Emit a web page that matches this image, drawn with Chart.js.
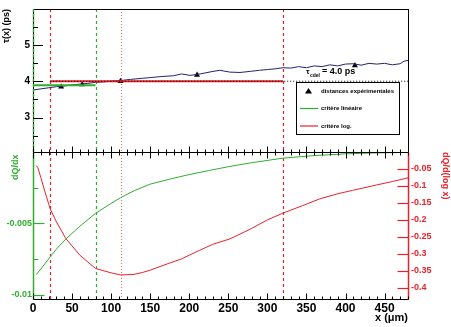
<!DOCTYPE html>
<html lang="fr">
<head>
<meta charset="UTF-8">
<title>tau(x) et dQ/dx</title>
<script src="https://cdn.jsdelivr.net/npm/chart.js"></script>
<style>
  html, body { margin: 0; padding: 0; background: #fff; }
  #wrap { position: relative; width: 451px; height: 327px; background: #fff; }
  #wrap canvas { position: absolute; left: 0; top: 0; }
</style>
</head>
<body>
<div id="wrap">
  <canvas id="topChart" width="451" height="327"></canvas>
  <canvas id="botChart" width="451" height="327"></canvas>
</div>

<script>
// ---- data ----
const X_TICKS = [0, 50, 100, 150, 200, 250, 300, 350, 400, 450];
const TAU_TICKS = [3, 4, 5];
const DQDX_TICKS = [-0.01, -0.005];
const DQDLOG_TICKS = [-0.4, -0.35, -0.3, -0.25, -0.2, -0.15, -0.1, -0.05];

// tau(x) measured curve (ps)
const TAU_X = [0, 10, 20, 30, 40, 50, 60, 70, 80, 90, 100, 112, 125, 140, 150, 165, 180, 190, 201, 214, 228, 239, 252, 265, 278, 290, 300, 310, 320, 330, 340, 350, 360, 370, 380, 390, 400, 410, 420, 430, 440, 450, 460, 470, 475, 480];
const TAU_Y = [3.76, 3.79, 3.82, 3.85, 3.87, 3.90, 3.92, 3.94, 3.97, 3.98, 4.00, 4.02, 4.05, 4.08, 4.10, 4.13, 4.15, 4.20, 4.16, 4.20, 4.26, 4.30, 4.25, 4.24, 4.27, 4.30, 4.32, 4.34, 4.37, 4.36, 4.40, 4.37, 4.42, 4.40, 4.45, 4.42, 4.47, 4.48, 4.44, 4.49, 4.47, 4.49, 4.45, 4.48, 4.55, 4.57];

// distances expérimentales
const EXP_X = [36, 63, 112, 210, 412];
const EXP_TAU = [3.85, 3.91, 4.0, 4.17, 4.43];

// criteria
const LIN_X = [0, 80];
const LIN_TAU = [3.89, 3.89];
const LOG_X = [22, 320];
const LOG_TAU = [4.0, 4.0];
const CDEL_X = [22, 480];
const TAU_CDEL = 4.0;

// cut positions (um)
const CUT_LOG = [22, 320];
const CUT_LIN = [80];
const CUT_OPT = [112];

// dQ/dx (left axis)
const DQDX_X = [4, 10, 22, 30, 42, 60, 80, 100, 112, 130, 150, 175, 200, 225, 252, 280, 320, 360, 400, 440, 480];
const DQDX_Y = [-0.0086, -0.0082, -0.00735, -0.0068, -0.0061, -0.0052, -0.0043, -0.0036, -0.0032, -0.0027, -0.00225, -0.0019, -0.00158, -0.0013, -0.00101, -0.00075, -0.00043, -0.00025, -0.00013, -0.00006, -0.00003];

// dQ/d(log x) (right axis)
const DQDLOG_X = [4, 6, 10, 15, 22, 30, 42, 60, 80, 100, 112, 128, 140, 150, 175, 190, 200, 213, 230, 252, 280, 300, 320, 345, 367, 390, 409, 440, 460, 480];
const DQDLOG_Y = [-0.04, -0.045, -0.075, -0.115, -0.167, -0.206, -0.255, -0.304, -0.343, -0.356, -0.362, -0.361, -0.355, -0.348, -0.327, -0.315, -0.304, -0.29, -0.272, -0.256, -0.225, -0.2, -0.18, -0.158, -0.138, -0.123, -0.113, -0.097, -0.087, -0.076];

const GREEN = '#2fae2f';
const RED = '#e8222a';
const PINK = '#ea6a6a';
const NAVY = '#23236e';
const FONT = 'Liberation Sans, Arial, Helvetica, sans-serif';

const pts = (xs, ys) => xs.map((x, i) => ({ x: x, y: ys[i] }));

Chart.defaults.animation = false;
Chart.defaults.font.family = FONT;

function line(ctx, x1, y1, x2, y2, color, width, dash) {
  ctx.save();
  ctx.strokeStyle = color;
  ctx.lineWidth = width;
  ctx.setLineDash(dash || []);
  ctx.beginPath();
  ctx.moveTo(x1, y1);
  ctx.lineTo(x2, y2);
  ctx.stroke();
  ctx.restore();
}

function drawCuts(chart) {
  const ctx = chart.ctx, a = chart.chartArea, xs = chart.scales.x;
  CUT_LOG.forEach(v => { const p = Math.round(xs.getPixelForValue(v)) + 0.5; line(ctx, p, a.top, p, a.bottom, RED, 1.2, [3, 3]); });
  CUT_LIN.forEach(v => { const p = Math.round(xs.getPixelForValue(v)) + 0.5; line(ctx, p, a.top, p, a.bottom, GREEN, 1.2, [3, 3]); });
  CUT_OPT.forEach(v => { const p = Math.round(xs.getPixelForValue(v)) + 0.5; line(ctx, p, a.top, p, a.bottom, PINK, 1, [1, 2]); });
}

// ticks along the x axis at pixel row y, dir = -1 up, +1 down
function drawXTicks(chart, y, dir) {
  const ctx = chart.ctx, xs = chart.scales.x;
  for (let v = 0; v <= 480; v += 10) {
    const p = Math.round(xs.getPixelForValue(v)) + 0.5;
    const len = v % 50 === 0 ? 6 : 3;
    line(ctx, p, y, p, y + dir * len, '#000', 1);
  }
}

const topPlugin = {
  id: 'topPad',
  beforeDatasetsDraw(chart) {
    drawCuts(chart);
  },
  afterDraw(chart) {
    const ctx = chart.ctx, a = chart.chartArea, ys = chart.scales.y, xs = chart.scales.x;
    ctx.save();
    ctx.strokeStyle = '#000';
    ctx.lineWidth = 1;
    ctx.strokeRect(Math.round(a.left) + 0.5, Math.round(a.top) + 0.5, Math.round(a.right - a.left), Math.round(a.bottom - a.top));
    ctx.restore();
    // green dashed line at x = 0
    const x0 = Math.round(xs.getPixelForValue(0)) + 0.5;
    line(ctx, x0, a.top, x0, a.bottom, GREEN, 1.5, [3, 2]);
    drawXTicks(chart, Math.round(a.bottom) + 0.5, -1);
    // y ticks
    TAU_TICKS.forEach(v => { const p = Math.round(ys.getPixelForValue(v)) + 0.5; line(ctx, a.left, p, a.left + 10, p, '#000', 1); });
    [2.5, 3.5, 4.5, 5.5].forEach(v => { const p = Math.round(ys.getPixelForValue(v)) + 0.5; line(ctx, a.left, p, a.left + 5, p, '#000', 1); });

    // tau_cdel label
    ctx.save();
    ctx.fillStyle = '#000';
    ctx.textBaseline = 'alphabetic';
    ctx.font = 'bold 8px ' + FONT;
    ctx.fillText('\u03c4', 306, 74);
    ctx.font = 'bold 5px ' + FONT;
    ctx.fillText('cdel', 310, 77);
    ctx.font = 'bold 9px ' + FONT;
    ctx.fillText('= 4.0 ps', 322, 74);
    ctx.restore();

    // legend box
    const lx = 296.5, ly = 82.5, lw = 103, lh = 52;
    ctx.save();
    ctx.fillStyle = '#fff';
    ctx.fillRect(lx, ly, lw, lh);
    ctx.strokeStyle = '#000';
    ctx.lineWidth = 1;
    ctx.strokeRect(lx, ly, lw, lh);
    const ds = chart.data.datasets;
    const items = [ds[4], ds[1], ds[2]];
    const rows = [91, 108.5, 126];
    ctx.font = 'bold 6px ' + FONT;
    ctx.textBaseline = 'middle';
    items.forEach((d, i) => {
      const y = rows[i];
      if (d.showLine === false) {
        ctx.fillStyle = '#000';
        ctx.beginPath();
        ctx.moveTo(308.5, y - 3);
        ctx.lineTo(312, y + 2.5);
        ctx.lineTo(305, y + 2.5);
        ctx.closePath();
        ctx.fill();
      } else {
        line(ctx, 300, y, 318, y, d.borderColor, 1.2);
      }
      ctx.fillStyle = '#000';
      ctx.fillText(d.label, 321, y);
    });
    ctx.restore();
  }
};

const botPlugin = {
  id: 'botPad',
  beforeDatasetsDraw(chart) {
    drawCuts(chart);
  },
  afterDraw(chart) {
    const ctx = chart.ctx, a = chart.chartArea;
    const yl = chart.scales.y, yr = chart.scales.y2;
    const L = Math.round(a.left) + 0.5, R = Math.round(a.right) + 0.5;
    const T = Math.round(a.top) + 0.5, B = Math.round(a.bottom) + 0.5;
    line(ctx, L, T, R, T, '#000', 1);
    line(ctx, L, B, R, B, '#000', 1);
    line(ctx, L, T, L, B, GREEN, 1.5);
    line(ctx, R, T, R, B, RED, 1.5);
    drawXTicks(chart, B, -1);
    drawXTicks(chart, T, 1);
    DQDX_TICKS.forEach(v => { const p = Math.round(yl.getPixelForValue(v)) + 0.5; line(ctx, L, p, L + 11, p, GREEN, 1.2); });
    [-0.0075, -0.0025].forEach(v => { const p = Math.round(yl.getPixelForValue(v)) + 0.5; line(ctx, L, p, L + 5, p, GREEN, 1); });
    DQDLOG_TICKS.forEach(v => { const p = Math.round(yr.getPixelForValue(v)) + 0.5; line(ctx, R - 11, p, R, p, RED, 1.2); });
  }
};

const noGrid = { display: false, drawTicks: false };

new Chart(document.getElementById('topChart'), {
  type: 'line',
  data: {
    datasets: [
      { label: 'tau cdel', data: pts(CDEL_X, [TAU_CDEL, TAU_CDEL]), borderColor: '#000', borderWidth: 1, borderDash: [1, 2], pointRadius: 0 },
      { label: 'critère linéaire', data: pts(LIN_X, LIN_TAU), borderColor: GREEN, borderWidth: 2, pointRadius: 0 },
      { label: 'critère log.', data: pts(LOG_X, LOG_TAU), borderColor: RED, borderWidth: 2.2, pointRadius: 0 },
      { label: 'tau(x)', data: pts(TAU_X, TAU_Y), borderColor: NAVY, borderWidth: 1, pointRadius: 0, tension: 0 },
      { label: 'distances expérimentales', data: pts(EXP_X, EXP_TAU), showLine: false, pointStyle: 'triangle', pointRadius: 3.5, backgroundColor: '#000', borderColor: '#000', borderWidth: 0 }
    ]
  },
  options: {
    responsive: false,
    layout: { padding: { top: 3, right: 43, bottom: 175, left: 0 } },
    plugins: { legend: { display: false }, tooltip: { enabled: false } },
    scales: {
      x: { type: 'linear', min: 0, max: 480, display: false },
      y: {
        type: 'linear', min: 2.06, max: 5.98, position: 'left',
        afterFit: s => { s.width = 33; },
        afterBuildTicks: s => { s.ticks = TAU_TICKS.map(v => ({ value: v })); },
        grid: noGrid,
        border: { display: false },
        ticks: { color: '#000', padding: 3, font: { size: 10, weight: 'bold' } },
        title: { display: true, text: '\u03c4(x) (ps)', align: 'end', color: '#000', padding: { top: 1, bottom: 0 }, font: { size: 9, weight: 'bold' } }
      }
    }
  },
  plugins: [topPlugin]
});

new Chart(document.getElementById('botChart'), {
  type: 'line',
  data: {
    datasets: [
      { label: 'dQ/dx', data: pts(DQDX_X, DQDX_Y), yAxisID: 'y', borderColor: GREEN, borderWidth: 1, pointRadius: 0 },
      { label: 'dQ/d(log x)', data: pts(DQDLOG_X, DQDLOG_Y), yAxisID: 'y2', borderColor: RED, borderWidth: 1, pointRadius: 0 }
    ]
  },
  options: {
    responsive: false,
    layout: { padding: { top: 152, right: 0, bottom: 0, left: 0 } },
    plugins: { legend: { display: false }, tooltip: { enabled: false } },
    scales: {
      x: {
        type: 'linear', min: 0, max: 480, position: 'bottom',
        afterFit: s => { s.height = 28; },
        afterBuildTicks: s => { s.ticks = X_TICKS.map(v => ({ value: v })); },
        grid: noGrid,
        border: { display: false },
        ticks: { color: '#000', padding: 2, maxRotation: 0, autoSkip: false, font: { size: 12, weight: 'bold' } },
        title: { display: true, text: 'x (\u03bcm)', align: 'end', color: '#000', padding: { top: 0, bottom: 2 }, font: { size: 11, weight: 'bold' } }
      },
      y: {
        type: 'linear', min: -0.0103, max: 0, position: 'left',
        afterFit: s => { s.width = 33; },
        afterBuildTicks: s => { s.ticks = DQDX_TICKS.map(v => ({ value: v })); },
        grid: noGrid,
        border: { display: false },
        ticks: { color: GREEN, padding: 1, font: { size: 9, weight: 'bold' }, callback: v => String(v) },
        title: { display: true, text: 'dQ/dx ', align: 'end', color: GREEN, padding: { top: 10, bottom: 0 }, font: { size: 9, weight: 'bold' } }
      },
      y2: {
        type: 'linear', min: -0.433, max: 0, position: 'right',
        afterFit: s => { s.width = 43; },
        afterBuildTicks: s => { s.ticks = DQDLOG_TICKS.map(v => ({ value: v })); },
        grid: noGrid,
        border: { display: false },
        ticks: { color: RED, padding: 3, font: { size: 9, weight: 'bold' }, callback: v => String(v) },
        title: { display: true, text: 'dQ/d(log x)', align: 'end', color: RED, padding: { top: 0, bottom: 0 }, font: { size: 9, weight: 'bold' } }
      }
    }
  },
  plugins: [botPlugin]
});
</script>
</body>
</html>
